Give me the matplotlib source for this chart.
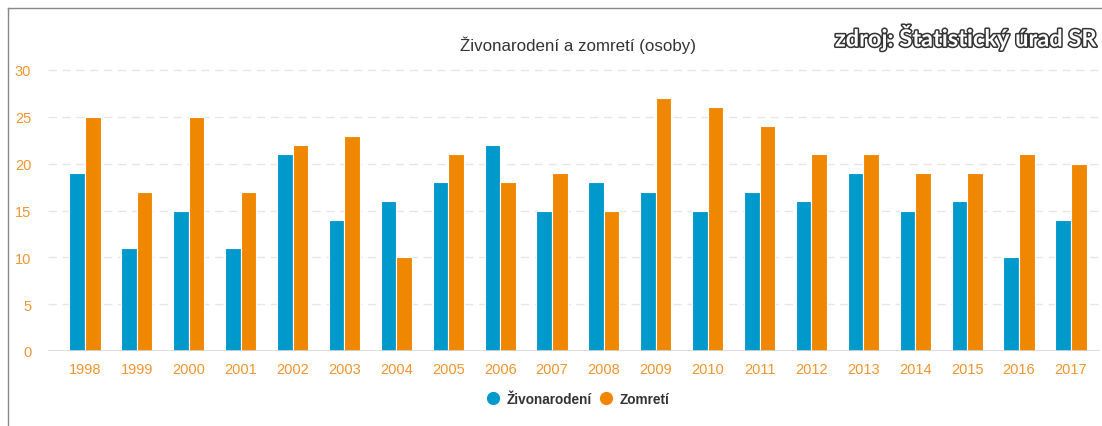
import numpy as np
import matplotlib.pyplot as plt
import matplotlib.patheffects as pe
from matplotlib.lines import Line2D

years = ["1998", "1999", "2000", "2001", "2002", "2003", "2004", "2005", "2006", "2007",
         "2008", "2009", "2010", "2011", "2012", "2013", "2014", "2015", "2016", "2017"]
zivonarodeni = [19, 11, 15, 11, 21, 14, 16, 18, 22, 15, 18, 17, 15, 17, 16, 19, 15, 16, 10, 14]
zomreti = [25, 17, 25, 17, 22, 23, 10, 21, 18, 19, 15, 27, 26, 24, 21, 21, 19, 19, 21, 20]

blue = "#0099cc"
orange = "#f08700"
lab_orange = "#f0952f"

plt.rcParams['font.family'] = ['Liberation Sans', 'DejaVu Sans']

fig = plt.figure(figsize=(11.02, 4.27), dpi=100)
ax = fig.add_axes([48/1102, 75/427, 1052/1102, 281/427])

x = np.arange(len(years))
w = 0.3
ax.bar(x - w/2, zivonarodeni, w, color=blue, edgecolor="white", linewidth=0.8, label="Živonarodení", zorder=3)
ax.bar(x + w/2, zomreti, w, color=orange, edgecolor="white", linewidth=0.8, label="Zomretí", zorder=3)

ax.set_xlim(-0.713, 19.56)
ax.set_ylim(0, 30)
ax.set_yticks([0, 5, 10, 15, 20, 25, 30])
ax.set_xticks(x)
ax.set_xticklabels(years)
for s in ["top", "right", "left", "bottom"]:
    ax.spines[s].set_visible(False)
for v in [5, 10, 15, 20, 25, 30]:
    ax.axhline(v, color="#e6e6e6", linewidth=1, dashes=(6, 4), zorder=1, clip_on=False)
ax.axhline(0, color="#d8d8d8", linewidth=1.2, zorder=4)
ax.tick_params(axis="both", length=0, labelsize=10.5, labelcolor=lab_orange)
ax.tick_params(axis="y", pad=12)
ax.tick_params(axis="x", pad=8)

fig.text(578/1102, 1 - 45/427, "Živonarodení a zomretí (osoby)", ha="center", va="center",
         fontsize=12.2, color="#333333")

fig.text(1097/1102, 1 - 38/427, "zdroj: Štatistický úrad SR", ha="right", va="center",
         fontsize=17, fontweight="bold", family=["Lato", "DejaVu Sans"], color="white",
         path_effects=[pe.withStroke(linewidth=2.2, foreground="#333333")])

handles = [Line2D([], [], marker="o", linestyle="", markersize=8.5, color=blue),
           Line2D([], [], marker="o", linestyle="", markersize=8.5, color=orange)]
leg = fig.legend(handles, ["Živonarodení", "Zomretí"], loc="center", bbox_to_anchor=(578/1102, 1 - 400/427),
                 ncol=2, frameon=False, handlelength=1.0, handletextpad=0.53, columnspacing=0.53,
                 borderpad=0, borderaxespad=0, prop={"weight": "bold", "size": 9.8})
for t in leg.get_texts():
    t.set_color("#333333")

# frame lines
fig.add_artist(Line2D([8/1102, 8/1102], [0, 1 - 9/427], color="#888888", linewidth=1))
fig.add_artist(Line2D([8/1102, 1], [1 - 9/427, 1 - 9/427], color="#888888", linewidth=1))

fig.savefig("out.png", dpi=100)
